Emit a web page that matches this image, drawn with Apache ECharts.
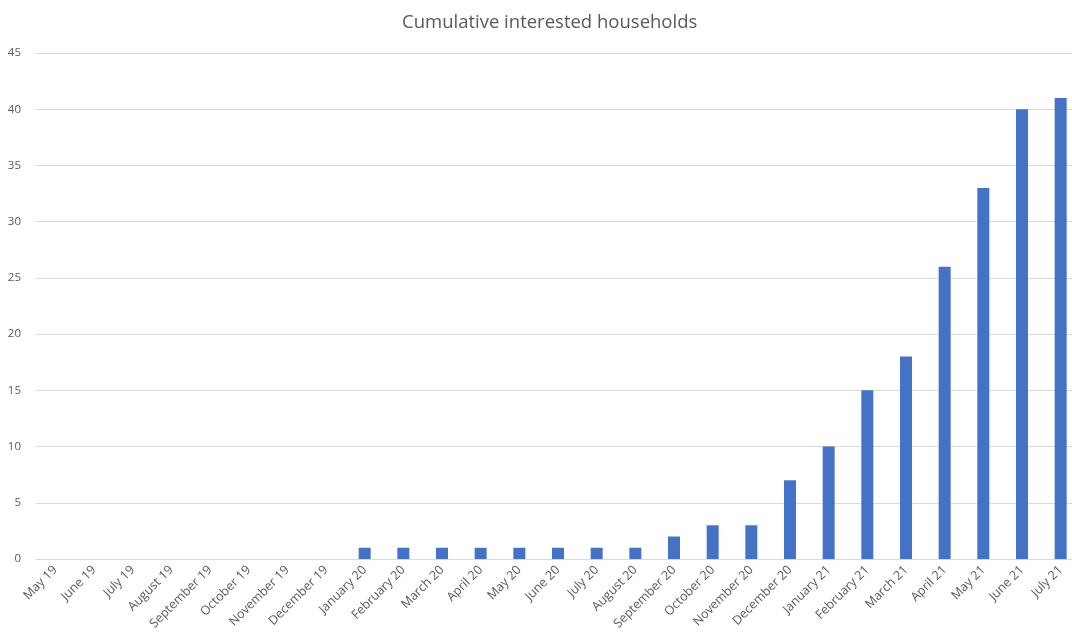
<!DOCTYPE html>
<html>
<head>
<meta charset="utf-8">
<script src="https://cdn.jsdelivr.net/npm/echarts@6/dist/echarts.min.js"></script>
<style>
  html, body { margin: 0; padding: 0; background: #ffffff; overflow: hidden; }
  #chart { width: 1080px; height: 633px; }
</style>
</head>
<body>
<div id="chart"></div>
<script>
// Months covered by the series
const months = [
  'May 19', 'June 19', 'July 19', 'August 19', 'September 19', 'October 19',
  'November 19', 'December 19', 'January 20', 'February 20', 'March 20',
  'April 20', 'May 20', 'June 20', 'July 20', 'August 20', 'September 20',
  'October 20', 'November 20', 'December 20', 'January 21', 'February 21',
  'March 21', 'April 21', 'May 21', 'June 21', 'July 21'
];

// Running total of interested households per month
const households = [
  0, 0, 0, 0, 0, 0, 0, 0,
  1, 1, 1, 1, 1, 1, 1, 1,
  2, 3, 3, 7, 10, 15, 18, 26, 33, 40, 41
];

const chartTitle = 'Cumulative interested households';

const chart = echarts.init(document.getElementById('chart'), null, { renderer: 'canvas' });

const fontFamily = '"Open Sans", "Noto Sans", "DejaVu Sans", sans-serif';

chart.setOption({
  animation: false,
  backgroundColor: '#ffffff',
  title: {
    text: chartTitle,
    left: 397,
    top: 8,
    textStyle: {
      fontFamily: fontFamily,
      fontSize: 18.5,
      fontWeight: 'normal',
      color: '#595959'
    }
  },
  grid: {
    left: 36,
    top: 53,
    bottom: 74,
    right: 0,
    containLabel: false
  },
  xAxis: {
    type: 'category',
    data: months,
    axisLine: { show: true, lineStyle: { color: '#d9d9d9', width: 1 } },
    axisTick: { show: false },
    axisLabel: {
      interval: 0,
      rotate: 45,
      margin: 9,
      color: '#595959',
      fontFamily: fontFamily,
      fontSize: 12.5
    }
  },
  yAxis: {
    type: 'value',
    min: 0,
    max: 45,
    interval: 5,
    axisLine: { show: false },
    axisTick: { show: false },
    axisLabel: {
      margin: 15,
      color: '#595959',
      fontFamily: fontFamily,
      fontSize: 11.5
    },
    splitLine: { show: true, lineStyle: { color: '#d9d9d9', width: 1 } }
  },
  series: [{
    type: 'bar',
    data: households,
    barWidth: 12,
    itemStyle: { color: '#4472c4' }
  }]
});
</script>
</body>
</html>
